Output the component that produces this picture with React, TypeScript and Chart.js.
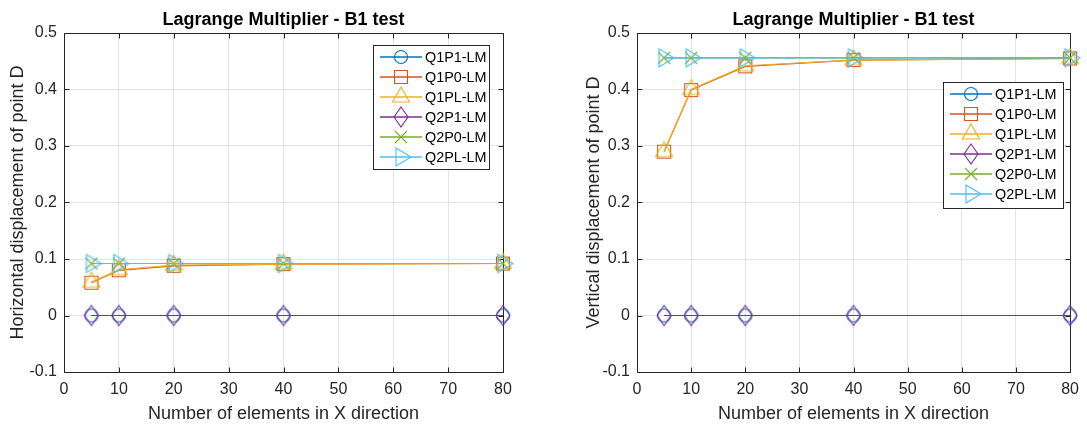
import React, { useEffect, useRef } from 'react';
import { Chart, registerables } from 'chart.js';

Chart.register(...registerables);

// ---------------- data ----------------
const xValues = [5, 10, 20, 40, 80];
const seriesNames = ['Q1P1-LM', 'Q1P0-LM', 'Q1PL-LM', 'Q2P1-LM', 'Q2P0-LM', 'Q2PL-LM'];
const seriesColors = ['#0072BD', '#D95319', '#EDB120', '#7E2F8E', '#77AC30', '#4DBEEE'];
const seriesMarkers = ['o', 's', '^', 'd', 'x', '>'];

const horizQ1P1 = [0, 0, 0, 0, 0];
const horizQ1P0 = [0.058, 0.08, 0.088, 0.091, 0.092];
const horizQ1PL = [0.059, 0.081, 0.089, 0.091, 0.092];
const horizQ2P1 = [0, 0, 0, 0, 0];
const horizQ2P0 = [0.092, 0.092, 0.092, 0.092, 0.092];
const horizQ2PL = [0.092, 0.092, 0.092, 0.092, 0.092];

const vertQ1P1 = [0, 0, 0, 0, 0];
const vertQ1P0 = [0.29, 0.399, 0.441, 0.452, 0.455];
const vertQ1PL = [0.29, 0.4, 0.442, 0.452, 0.455];
const vertQ2P1 = [0, 0, 0, 0, 0];
const vertQ2P0 = [0.456, 0.456, 0.456, 0.456, 0.456];
const vertQ2PL = [0.456, 0.456, 0.456, 0.456, 0.456];

const xTicks = [0, 10, 20, 30, 40, 50, 60, 70, 80];
const yTicks = [-0.1, 0, 0.1, 0.2, 0.3, 0.4, 0.5];

const chartTitle = 'Lagrange Multiplier - B1 test';
const xLabel = 'Number of elements in X direction';
const yLabelLeft = 'Horizontal displacement of point D';
const yLabelRight = 'Vertical displacement of point D';

// ---------------- styling ----------------
const FONT = '"Liberation Sans", Arial, Helvetica, sans-serif';
const AX = '#262626';
const GRID = '#e3e3e3';

function drawMarker(ctx: CanvasRenderingContext2D, kind: string, cx: number, cy: number, color: string) {
  ctx.save();
  ctx.strokeStyle = color;
  ctx.lineWidth = 1.1;
  ctx.beginPath();
  switch (kind) {
    case 'o':
      ctx.arc(cx, cy, 6.5, 0, Math.PI * 2);
      break;
    case 's':
      ctx.rect(cx - 6.5, cy - 6.5, 13, 13);
      break;
    case '^':
      ctx.moveTo(cx, cy - 10);
      ctx.lineTo(cx + 8.5, cy + 5);
      ctx.lineTo(cx - 8.5, cy + 5);
      ctx.closePath();
      break;
    case 'd':
      ctx.moveTo(cx, cy - 10);
      ctx.lineTo(cx + 7, cy);
      ctx.lineTo(cx, cy + 10);
      ctx.lineTo(cx - 7, cy);
      ctx.closePath();
      break;
    case 'x':
      ctx.moveTo(cx - 6, cy - 6);
      ctx.lineTo(cx + 6, cy + 6);
      ctx.moveTo(cx + 6, cy - 6);
      ctx.lineTo(cx - 6, cy + 6);
      break;
    case '>':
      ctx.moveTo(cx - 5, cy - 9);
      ctx.lineTo(cx + 10, cy);
      ctx.lineTo(cx - 5, cy + 9);
      ctx.closePath();
      break;
  }
  ctx.stroke();
  ctx.restore();
}

function markerCanvas(kind: string, color: string): HTMLCanvasElement {
  const c = document.createElement('canvas');
  c.width = 26;
  c.height = 26;
  const ctx = c.getContext('2d')!;
  drawMarker(ctx, kind, 13, 13, color);
  return c;
}

interface LegendBox { x: number; y: number; w: number; h: number; row0: number; rowStep: number }

function decorPlugin(legend: LegendBox) {
  return {
    id: 'decor',
    beforeDatasetsDraw(chart: any) {
      const { ctx, chartArea: a, scales } = chart;
      ctx.save();
      ctx.strokeStyle = AX;
      ctx.lineWidth = 1;
      const L = Math.round(a.left) + 0.5;
      const R = Math.round(a.right) + 0.5;
      const T = Math.round(a.top) + 0.5;
      const B = Math.round(a.bottom) + 0.5;
      ctx.strokeRect(L, T, R - L, B - T);
      ctx.beginPath();
      for (const v of xTicks) {
        const px = Math.round(scales.x.getPixelForValue(v)) + 0.5;
        ctx.moveTo(px, B);
        ctx.lineTo(px, B - 5);
        ctx.moveTo(px, T);
        ctx.lineTo(px, T + 5);
      }
      for (const v of yTicks) {
        const py = Math.round(scales.y.getPixelForValue(v)) + 0.5;
        ctx.moveTo(L, py);
        ctx.lineTo(L + 5, py);
        ctx.moveTo(R, py);
        ctx.lineTo(R - 5, py);
      }
      ctx.stroke();
      ctx.fillStyle = '#000';
      ctx.font = `bold 18px ${FONT}`;
      ctx.textAlign = 'center';
      ctx.textBaseline = 'alphabetic';
      ctx.fillText(chartTitle, (a.left + a.right) / 2, 25);
      ctx.restore();
    },
    afterDraw(chart: any) {
      const { ctx } = chart;
      ctx.save();
      ctx.fillStyle = '#fff';
      ctx.fillRect(legend.x, legend.y, legend.w, legend.h);
      ctx.strokeStyle = AX;
      ctx.lineWidth = 1;
      ctx.strokeRect(legend.x + 0.5, legend.y + 0.5, legend.w, legend.h);
      ctx.font = `14.4px ${FONT}`;
      ctx.textAlign = 'left';
      ctx.textBaseline = 'middle';
      seriesNames.forEach((name, i) => {
        const y = legend.y + legend.row0 + i * legend.rowStep;
        ctx.strokeStyle = seriesColors[i];
        ctx.lineWidth = 1.3;
        ctx.beginPath();
        ctx.moveTo(legend.x + 7, y);
        ctx.lineTo(legend.x + 49, y);
        ctx.stroke();
        drawMarker(ctx, seriesMarkers[i], legend.x + 28, y, seriesColors[i]);
        ctx.fillStyle = '#000';
        ctx.fillText(name, legend.x + 52, y + 1);
      });
      ctx.restore();
    },
  };
}

interface PanelProps {
  series: number[][];
  yLabel: string;
  width: number;
  left: number;
  axisWidth: number;
  rightPad: number;
  yTitlePad: number;
  legend: LegendBox;
}

function Panel(props: PanelProps) {
  const ref = useRef<HTMLCanvasElement | null>(null);
  useEffect(() => {
    if (!ref.current) return;
    const datasets = props.series.map((vals, i) => ({
      label: seriesNames[i],
      data: xValues.map((x, j) => ({ x, y: vals[j] })),
      borderColor: seriesColors[i],
      backgroundColor: 'transparent',
      borderWidth: 1.2,
      pointStyle: markerCanvas(seriesMarkers[i], seriesColors[i]),
      pointRadius: 6,
      tension: 0,
      clip: false as any,
      order: 5 - i,
    }));
    const chart = new Chart(ref.current, {
      type: 'line',
      data: { datasets },
      options: {
        animation: false,
        responsive: false,
        maintainAspectRatio: false,
        layout: { padding: { top: 33, right: props.rightPad, bottom: 0, left: 0 } },
        plugins: { legend: { display: false }, tooltip: { enabled: false }, title: { display: false } },
        scales: {
          x: {
            type: 'linear',
            min: 0,
            max: 80,
            afterBuildTicks: (s: any) => {
              s.ticks = xTicks.map((v) => ({ value: v }));
            },
            afterFit: (s: any) => {
              s.height = 53;
            },
            ticks: {
              color: AX,
              font: { family: FONT, size: 16 },
              padding: 8,
              maxRotation: 0,
              autoSkip: false,
              callback: (v: any) => String(v),
            },
            grid: { color: GRID, drawTicks: false, lineWidth: 1 },
            border: { display: false },
            title: {
              display: true,
              text: xLabel,
              color: AX,
              font: { family: FONT, size: 18 },
              padding: { top: 0, bottom: 0 },
            },
          },
          y: {
            type: 'linear',
            min: -0.1,
            max: 0.5,
            afterBuildTicks: (s: any) => {
              s.ticks = yTicks.map((v) => ({ value: v }));
            },
            afterFit: (s: any) => {
              s.width = props.axisWidth;
            },
            ticks: {
              color: AX,
              font: { family: FONT, size: 16 },
              padding: 7,
              autoSkip: false,
              callback: (v: any) => String(v),
            },
            grid: { color: GRID, drawTicks: false, lineWidth: 1 },
            border: { display: false },
            title: {
              display: true,
              text: props.yLabel,
              color: AX,
              font: { family: FONT, size: 18 },
              padding: { top: props.yTitlePad, bottom: 0 },
            },
          },
        },
      },
      plugins: [decorPlugin(props.legend)],
    } as any);
    return () => chart.destroy();
  }, []);
  return (
    <canvas
      ref={ref}
      width={props.width}
      height={425}
      style={{ position: 'absolute', left: props.left, top: 0, width: props.width, height: 425, display: 'block' }}
    />
  );
}

export default function App() {
  return (
    <div style={{ position: 'absolute', left: 0, top: 0, width: 1087, height: 425, background: '#fff' }}>
      <Panel
        series={[horizQ1P1, horizQ1P0, horizQ1PL, horizQ2P1, horizQ2P0, horizQ2PL]}
        yLabel={yLabelLeft}
        width={543}
        left={0}
        axisWidth={64}
        rightPad={40}
        yTitlePad={7.5}
        legend={{ x: 373, y: 45, w: 116, h: 124, row0: 12, rowStep: 20 }}
      />
      <Panel
        series={[vertQ1P1, vertQ1P0, vertQ1PL, vertQ2P1, vertQ2P0, vertQ2PL]}
        yLabel={yLabelRight}
        width={544}
        left={543}
        axisWidth={94}
        rightPad={12}
        yTitlePad={40}
        legend={{ x: 400, y: 82, w: 120, h: 126, row0: 12, rowStep: 20 }}
      />
    </div>
  );
}
